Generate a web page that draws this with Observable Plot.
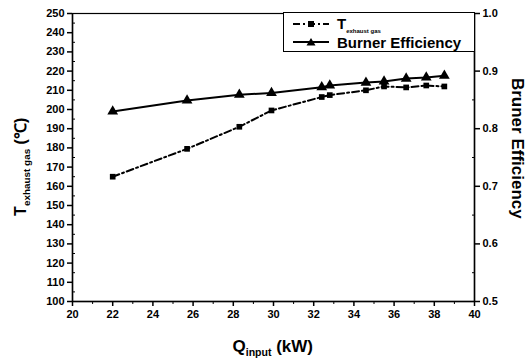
<!DOCTYPE html>
<html>
<head>
<meta charset="utf-8">
<script src="https://cdn.jsdelivr.net/npm/d3@7"></script>
<script src="https://cdn.jsdelivr.net/npm/@observablehq/plot@0.6"></script>
<style>
  html, body { margin: 0; padding: 0; background: #fff; }
  #wrap { position: relative; width: 531px; height: 359px; font-family: "Liberation Sans", Arial, sans-serif; font-weight: bold; color: #000; }
  .ttl { position: absolute; white-space: nowrap; font-weight: bold; line-height: 1.1; }
  .ttl sub { font-size: 0.62em; vertical-align: -0.35em; line-height: 0; }
  #legend { position: absolute; background: #fff; border: 1.5px solid #000; box-sizing: border-box; }
  .lrow { position: absolute; left: 8px; display: flex; align-items: center; white-space: nowrap; line-height: 15px; height: 16px; }
  .lrow sub { line-height: 0; }
</style>
</head>
<body>
<div id="wrap"></div>
<script>
// ---- data ----
const qInput = [22, 25.7, 28.3, 29.9, 32.4, 32.8, 34.6, 35.5, 36.6, 37.6, 38.5];
const tExhaust = [165, 179.5, 191, 199.5, 206.5, 207.5, 210, 212, 211.5, 212.5, 212];
const burnerEff = [0.830, 0.849, 0.859, 0.862, 0.872, 0.875, 0.880, 0.882, 0.887, 0.889, 0.892];
const xTicks = [20, 22, 24, 26, 28, 30, 32, 34, 36, 38, 40];
const yTicks = [100, 110, 120, 130, 140, 150, 160, 170, 180, 190, 200, 210, 220, 230, 240, 250];
const effTicks = [0.5, 0.6, 0.7, 0.8, 0.9, 1.0];

// right axis (efficiency 0.5–1.0) mapped onto the left scale (100–250)
const effToY = e => 100 + (e - 0.5) * 300;
const yToEff = y => (y - 100) / 300 + 0.5;

const rows = qInput.map((q, i) => ({q, t: tExhaust[i], e: burnerEff[i]}));

const font = {fontFamily: "Liberation Sans, Arial, sans-serif", fontWeight: "bold", fontSize: 11};

const chart = Plot.plot({
  width: 531,
  height: 359,
  marginLeft: 72,
  marginRight: 57,
  marginTop: 13,
  marginBottom: 58,
  style: {fontFamily: "Liberation Sans, Arial, sans-serif", fontWeight: "bold", fontSize: "11px", color: "#000", background: "#fff"},
  x: {domain: [20, 40]},
  y: {domain: [100, 250]},
  marks: [
    Plot.frame({stroke: "#000", strokeWidth: 1.2}),
    // left axis
    Plot.axisY({anchor: "left", ticks: yTicks, tickSize: 5, tickPadding: 3, label: null, strokeWidth: 1.5, ...font}),
    Plot.axisY({anchor: "left", ticks: d3.range(105, 250, 10), tickSize: -3, text: null, label: null}),
    // right axis
    Plot.axisY({anchor: "right", ticks: effTicks.map(effToY), tickFormat: d => yToEff(d).toFixed(1), tickSize: 5, tickPadding: 3, label: null, strokeWidth: 1.5, ...font}),
    Plot.axisY({anchor: "right", ticks: effTicks.slice(0, -1).map(e => effToY(e + 0.05)), tickSize: -3, text: null, label: null}),
    // bottom axis
    Plot.axisX({anchor: "bottom", ticks: xTicks, tickSize: 5, tickPadding: 4, label: null, strokeWidth: 1.5, ...font}),
    Plot.axisX({anchor: "bottom", ticks: d3.range(21, 40, 2), tickSize: 3, text: null, label: null}),
    Plot.ruleX([20], {stroke: "#000", strokeWidth: 1.5}),
    Plot.ruleX([40], {stroke: "#000", strokeWidth: 1.5}),
    Plot.ruleY([100], {stroke: "#000", strokeWidth: 1.5}),
    // series
    Plot.line(rows, {x: "q", y: "t", stroke: "#000", strokeWidth: 2, strokeDasharray: "7,3,2,3"}),
    Plot.dot(rows, {x: "q", y: "t", symbol: "square", r: 3.2, fill: "#000", stroke: "none"}),
    Plot.line(rows, {x: "q", y: d => effToY(d.e), stroke: "#000", strokeWidth: 2}),
    Plot.dot(rows, {x: "q", y: d => effToY(d.e), symbol: "triangle", r: 4, fill: "#000", stroke: "none"})
  ]
});

const wrap = document.getElementById("wrap");
chart.style.position = "absolute";
chart.style.left = "0";
chart.style.top = "0";
wrap.appendChild(chart);

// axis titles
function addTitle(html, cx, cy, rot, size) {
  const d = document.createElement("div");
  d.className = "ttl";
  d.innerHTML = html;
  d.style.fontSize = size + "px";
  wrap.appendChild(d);
  const w = d.offsetWidth, h = d.offsetHeight;
  d.style.left = (cx - w / 2) + "px";
  d.style.top = (cy - h / 2) + "px";
  if (rot) d.style.transform = `rotate(${rot}deg)`;
}
addTitle("T<sub>exhaust gas</sub> (℃)", 21, 167, -90, 16);
addTitle("Bruner Efficiency", 516, 148, 90, 17);
addTitle("Q<sub>input</sub> (kW)", 273, 347, 0, 17);

// legend
const lg = document.createElement("div");
lg.id = "legend";
lg.style.left = "283px";
lg.style.top = "12px";
lg.style.width = "192px";
lg.style.height = "40px";
const sample = (dash, sym) => `<svg width="38" height="10" style="margin-right:7px">
  <line x1="1" x2="37" y1="5" y2="5" stroke="#000" stroke-width="2" ${dash ? `stroke-dasharray="${dash}"` : ""}/>
  ${sym === "square" ? `<rect x="16" y="2" width="6" height="6" fill="#000"/>` : `<path d="M19,1 L23.5,8.5 L14.5,8.5 Z" fill="#000"/>`}
</svg>`;
lg.innerHTML = `
  <div class="lrow" style="top:3px;font-size:15px">${sample("7,3,2,3", "square")}<span>T<sub style="font-size:6px;vertical-align:-0.7em">exhaust gas</sub></span></div>
  <div class="lrow" style="top:21px;font-size:15px">${sample(null, "triangle")}<span>Burner Efficiency</span></div>`;
wrap.appendChild(lg);
</script>
</body>
</html>
